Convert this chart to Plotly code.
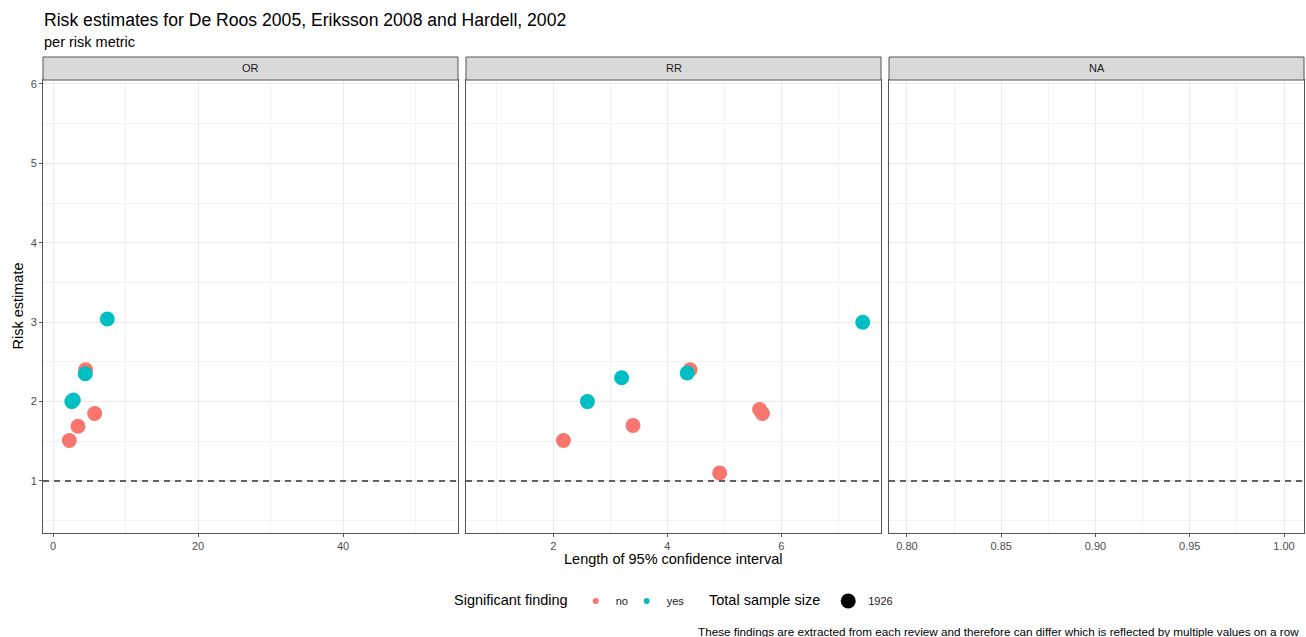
import plotly.graph_objects as go

# --- data -------------------------------------------------------------
# OR panel
or_ci_length = [7.49, 4.50, 4.45, 2.60, 2.80, 5.75, 3.45, 2.25]
or_estimate = [3.04, 2.40, 2.35, 2.00, 2.02, 1.85, 1.69, 1.51]
or_significant = ["yes", "no", "yes", "yes", "yes", "no", "no", "no"]

# RR panel
rr_ci_length = [7.43, 4.40, 4.35, 3.20, 2.60, 5.62, 5.67, 3.40, 2.18, 4.92]
rr_estimate = [3.00, 2.40, 2.36, 2.30, 2.00, 1.90, 1.85, 1.70, 1.51, 1.10]
rr_significant = ["yes", "no", "yes", "yes", "yes", "no", "no", "no", "no", "no"]

sample_size = 1926
facet_labels = ["OR", "RR", "NA"]
reference_value = 1

colors = {"no": "#F8766D", "yes": "#00BFC4"}

FONT = "Liberation Sans, Arial, sans-serif"
W, H = 1306, 637
ML, MR, MT, MB = 43, 2, 80, 104
PW = W - ML - MR
PH = H - MT - MB


def px_x(p):
    return (p - ML) / PW


def px_y(p):
    return (H - MB - p) / PH


fig = go.Figure()

panels = [
    ("x", "y", or_ci_length, or_estimate, or_significant),
    ("x2", "y2", rr_ci_length, rr_estimate, rr_significant),
]
for xa, ya, xs, ys, sig in panels:
    for level in ["no", "yes"]:
        px_ = [x for x, s in zip(xs, sig) if s == level]
        py_ = [y for y, s in zip(ys, sig) if s == level]
        fig.add_trace(go.Scatter(
            x=px_, y=py_, mode="markers", xaxis=xa, yaxis=ya,
            marker=dict(color=colors[level], size=15, line=dict(width=0)),
            showlegend=False, hoverinfo="x+y",
        ))

# legend entries (compact spacing; a trailing blank slot keeps the
# last label from being cut off by the fixed entry width)
for level in ["no", "yes"]:
    fig.add_trace(go.Scatter(
        x=[None], y=[None], mode="markers", name=level,
        marker=dict(color=colors[level], size=6), legend="legend",
    ))
fig.add_trace(go.Scatter(
    x=[None], y=[None], mode="markers", name=" ",
    marker=dict(color="rgba(0,0,0,0)", size=1), legend="legend",
    hoverinfo="skip",
))
fig.add_trace(go.Scatter(
    x=[None], y=[None], mode="markers", name=str(sample_size),
    marker=dict(color="black", size=15), legend="legend2",
))

# --- axes ---------------------------------------------------------------
domains = [(px_x(43), px_x(458)), (px_x(466), px_x(881)), (px_x(889), 1.0)]
xranges = [[-1.38, 55.86], [0.47, 7.75], [0.7905, 1.0106]]
xdticks = [20, 2, 0.05]
xminor = [10, 1, 0.025]
xtick0 = [0, 0, 0.8]
xfmt = ["", "", ".2f"]

axis_common = dict(
    showline=True, mirror=True, linecolor="#555555", linewidth=1,
    gridcolor="#ebebeb", gridwidth=1, zeroline=False,
    tickfont=dict(family=FONT, size=11, color="#4d4d4d"),
)

for i in range(3):
    sfx = "" if i == 0 else str(i + 1)
    fig.layout["xaxis" + sfx] = dict(
        axis_common, domain=list(domains[i]), range=xranges[i],
        dtick=xdticks[i], tick0=xtick0[i], tickformat=xfmt[i],
        ticks="outside", ticklen=3, tickcolor="#555555",
        minor=dict(dtick=xminor[i], tick0=xtick0[i], showgrid=True,
                   gridcolor="#f3f3f3", gridwidth=0.6),
        anchor="y" + sfx,
    )
    fig.layout["yaxis" + sfx] = dict(
        axis_common, domain=[0, 1], range=[0.345, 6.05], dtick=1, tick0=0,
        ticks="outside" if i == 0 else "", ticklen=3, tickcolor="#555555",
        showticklabels=(i == 0),
        minor=dict(dtick=0.5, tick0=0, showgrid=True,
                   gridcolor="#f3f3f3", gridwidth=0.6),
        anchor="x" + sfx,
        matches=None if i == 0 else "y",
    )

# --- shapes: reference lines and facet strips ---------------------------
shapes = []
strip_top = px_y(57)
for i in range(3):
    sfx = "" if i == 0 else str(i + 1)
    shapes.append(dict(
        type="line", xref="x" + sfx + " domain", yref="y" + sfx,
        x0=0, x1=1, y0=reference_value, y1=reference_value,
        line=dict(color="#333333", width=1.4, dash="6px,5px"),
    ))
    shapes.append(dict(
        type="rect", xref="paper", yref="paper",
        x0=domains[i][0], x1=domains[i][1], y0=1.0, y1=strip_top,
        fillcolor="#d9d9d9", line=dict(color="#555555", width=1),
    ))

annotations = []
for i, lab in enumerate(facet_labels):
    annotations.append(dict(
        text=lab, xref="paper", yref="paper",
        x=(domains[i][0] + domains[i][1]) / 2, y=(1 + strip_top) / 2,
        showarrow=False, xanchor="center", yanchor="middle",
        font=dict(family=FONT, size=11, color="#1a1a1a"),
    ))

annotations += [
    dict(text="Risk estimates for De Roos 2005, Eriksson 2008 and Hardell, 2002",
         xref="paper", yref="paper", x=px_x(42), y=px_y(20), xanchor="left",
         yanchor="middle", showarrow=False,
         font=dict(family=FONT, size=17.6, color="black")),
    dict(text="per risk metric", xref="paper", yref="paper", x=px_x(42),
         y=px_y(42), xanchor="left", yanchor="middle", showarrow=False,
         font=dict(family=FONT, size=14.5, color="black")),
    dict(text="Length of 95% confidence interval", xref="paper", yref="paper",
         x=px_x(673), y=px_y(559), xanchor="center", yanchor="middle",
         showarrow=False, font=dict(family=FONT, size=14.5, color="black")),
    dict(text="Risk estimate", xref="paper", yref="paper", x=px_x(17),
         y=0.5, xanchor="center", yanchor="middle", textangle=-90,
         showarrow=False, font=dict(family=FONT, size=14.5, color="black")),
    dict(text="These findings are extracted from each review and therefore can "
              "differ which is reflected by multiple values on a row",
         xref="paper", yref="paper", x=px_x(1301), y=px_y(631), xanchor="right",
         yanchor="middle", showarrow=False,
         font=dict(family=FONT, size=11.7, color="black")),
]

fig.update_layout(
    width=W, height=H,
    margin=dict(l=ML, r=MR, t=MT, b=MB, autoexpand=False),
    paper_bgcolor="white", plot_bgcolor="white",
    font=dict(family=FONT),
    shapes=shapes, annotations=annotations,
    legend=dict(
        title=dict(text="Significant finding",
                   font=dict(family=FONT, size=14.5, color="black")),
        orientation="h", x=px_x(452), y=px_y(601), xanchor="left",
        yanchor="middle", font=dict(family=FONT, size=11, color="#1a1a1a"),
        itemsizing="trace", bgcolor="rgba(0,0,0,0)", entrywidth=6,
    ),
    legend2=dict(
        title=dict(text="Total sample size",
                   font=dict(family=FONT, size=14.5, color="black")),
        orientation="h", x=px_x(707), y=px_y(601), xanchor="left",
        yanchor="middle", font=dict(family=FONT, size=11, color="#1a1a1a"),
        itemsizing="trace", bgcolor="rgba(0,0,0,0)",
    ),
)

fig.write_html("out.html")
